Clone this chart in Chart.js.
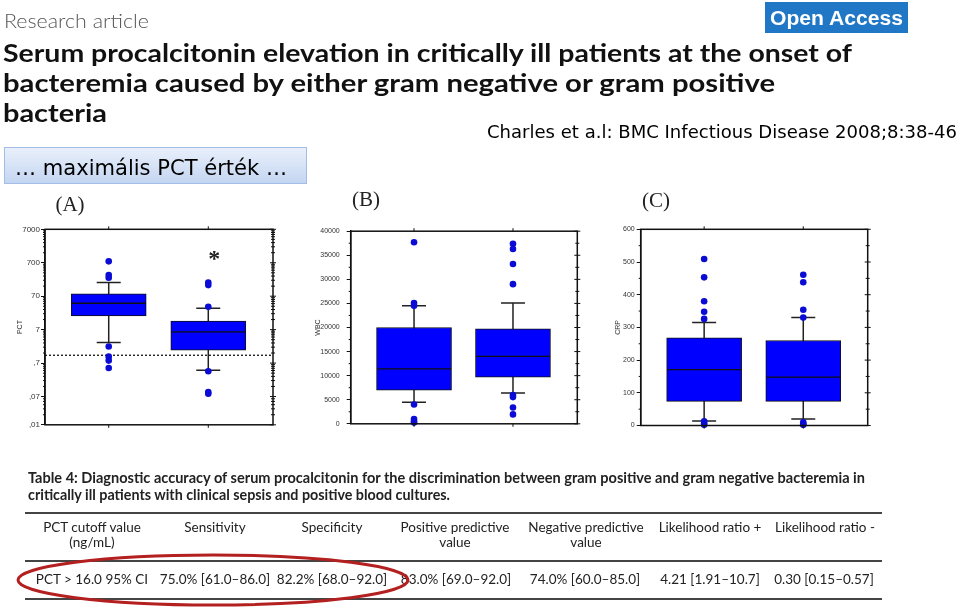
<!DOCTYPE html>
<html>
<head>
<meta charset="utf-8">
<script src="https://cdn.jsdelivr.net/npm/chart.js@4.4.0/dist/chart.umd.min.js"></script>
<style>
  body { margin: 0; background: #fff; }
  #page { position: relative; width: 960px; height: 610px; overflow: hidden; background: #fff; }
  #page canvas { position: absolute; }
  #page svg { position: absolute; left: 0; top: 0; }
</style>
</head>
<body>
<div id="page">
  <canvas id="cA"></canvas>
  <canvas id="cB"></canvas>
  <canvas id="cC"></canvas>
  <svg width="960" height="610" xml:space="preserve">
    <defs>
      <linearGradient id="boxGrad" x1="0" y1="0" x2="0" y2="1">
        <stop offset="0" stop-color="#eaf0fb"/>
        <stop offset="1" stop-color="#c3d5f1"/>
      </linearGradient>
    </defs>
    <!-- header -->
    <text x="4" y="28" font-family="Lato" font-weight="300" font-size="20" fill="#555" textLength="145" lengthAdjust="spacingAndGlyphs">Research article</text>
    <rect x="765" y="2" width="143" height="31" fill="#1f77c6"/>
    <text x="770" y="25" font-family="Liberation Sans" font-weight="bold" font-size="20" fill="#fff" textLength="133" lengthAdjust="spacingAndGlyphs">Open Access</text>
    <g font-family="Lato" font-weight="bold" font-size="25" fill="#111">
      <text x="3" y="62" textLength="849" lengthAdjust="spacingAndGlyphs">Serum procalcitonin elevation in critically ill patients at the onset of</text>
      <text x="3" y="92" textLength="772" lengthAdjust="spacingAndGlyphs">bacteremia caused by either gram negative or gram positive</text>
      <text x="3" y="122" textLength="104" lengthAdjust="spacingAndGlyphs">bacteria</text>
    </g>
    <text x="487" y="138" font-family="DejaVu Sans" font-size="17" fill="#000" textLength="470" lengthAdjust="spacingAndGlyphs">Charles et a.l: BMC Infectious Disease 2008;8:38-46</text>
    <rect x="4.5" y="147.5" width="302" height="36" fill="url(#boxGrad)" stroke="#a3bde6"/>
    <text x="15" y="175" font-family="DejaVu Sans" font-size="21" fill="#000" textLength="272" lengthAdjust="spacingAndGlyphs">…  maximális PCT érték  …</text>
    <!-- panel letters -->
    <g font-family="Liberation Serif" font-size="21" fill="#222" text-anchor="middle">
      <text x="70" y="211">(A)</text>
      <text x="366" y="206">(B)</text>
      <text x="656" y="207">(C)</text>
    </g>
    <!-- table -->
    <g font-family="Lato" font-weight="bold" font-size="14.5" fill="#222">
      <text x="28" y="483" textLength="837" lengthAdjust="spacingAndGlyphs">Table 4: Diagnostic accuracy of serum procalcitonin for the discrimination between gram positive and gram negative bacteremia in</text>
      <text x="28" y="500" textLength="422" lengthAdjust="spacingAndGlyphs">critically ill patients with clinical sepsis and positive blood cultures.</text>
    </g>
    <g stroke="#444" stroke-width="1.8">
      <line x1="25" y1="513" x2="882" y2="513"/>
      <line x1="25" y1="561" x2="882" y2="561"/>
      <line x1="25" y1="599" x2="882" y2="599"/>
    </g>
    <g font-family="Lato" font-size="13.5" fill="#222" text-anchor="middle">
      <text x="92" y="532">PCT cutoff value</text>
      <text x="92" y="547">(ng/mL)</text>
      <text x="215" y="532">Sensitivity</text>
      <text x="332" y="532">Specificity</text>
      <text x="455" y="532">Positive predictive</text>
      <text x="455" y="547">value</text>
      <text x="586" y="532">Negative predictive</text>
      <text x="586" y="547">value</text>
      <text x="710" y="532">Likelihood ratio +</text>
      <text x="825" y="532">Likelihood ratio -</text>
      <text x="92" y="584">PCT &gt; 16.0 95% CI</text>
      <text x="215" y="584">75.0% [61.0–86.0]</text>
      <text x="332" y="584">82.2% [68.0–92.0]</text>
      <text x="456" y="584">83.0% [69.0–92.0]</text>
      <text x="585" y="584">74.0% [60.0–85.0]</text>
      <text x="710" y="584">4.21 [1.91–10.7]</text>
      <text x="824" y="584">0.30 [0.15–0.57]</text>
    </g>
    <ellipse cx="213" cy="580" rx="195" ry="25" fill="none" stroke="#b3201f" stroke-width="3"/>
  </svg>
</div>
<script>
// ---------- DATA ----------
const groups = ['Gram negative', 'Gram positive'];
const groupX = [1, 2];

// (A) PCT, log scale
const pctQ1 = [18, 1.7];
const pctMedian = [43, 6.0];
const pctQ3 = [82, 12.7];
const pctWhiskerLo = [2.9, 0.43];
const pctWhiskerHi = [180, 30.6];
const pctOutliersNeg = [770, 299, 248, 2.2, 1.09, 0.83, 0.5];
const pctOutliersPos = [180, 150, 34, 0.4, 0.095, 0.085];
const pctCutoff = 1.2;
const pctStar = 1100;
const pctTicks = [0.01, 0.07, 0.7, 7, 70, 700, 7000];
const pctTickLabels = [',01', ',07', ',7', '7', '70', '700', '7000'];

// (B) WBC
const wbcQ1 = [7000, 9700];
const wbcMedian = [11400, 14000];
const wbcQ3 = [20000, 19700];
const wbcWhiskerLo = [4500, 6400];
const wbcWhiskerHi = [24500, 25100];
const wbcOutliersNeg = [37700, 25100, 24500, 4000, 1000, 500, 250];
const wbcOutliersPos = [37400, 36300, 33200, 29000, 5960, 5550, 3400, 1950];
const wbcTicks = [0, 5000, 10000, 15000, 20000, 25000, 30000, 35000, 40000];

// (C) CRP
const crpQ1 = [74, 74];
const crpMedian = [171, 148];
const crpQ3 = [268, 260];
const crpWhiskerLo = [14, 20];
const crpWhiskerHi = [315, 330];
const crpOutliersNeg = [509, 453, 380, 348, 326, 13, 6, 2];
const crpOutliersPos = [461, 438, 354, 330, 10, 4, 2];
const crpTicks = [0, 100, 200, 300, 400, 500, 600];

// ---------- BOX PLOT PLUGIN ----------
const boxplot = {
  id: 'boxplot',
  beforeDatasetsDraw(chart, args, o) {
    const { ctx, chartArea: a, scales: { x, y } } = chart;
    ctx.save();
    if (o.cutoff != null) {
      const py = y.getPixelForValue(o.cutoff);
      ctx.strokeStyle = '#111'; ctx.lineWidth = 1.3; ctx.setLineDash([2, 2]);
      ctx.beginPath(); ctx.moveTo(a.left, py); ctx.lineTo(a.right, py); ctx.stroke();
      ctx.setLineDash([]);
    }
    ctx.strokeStyle = '#222'; ctx.lineWidth = 1.5;
    o.lo.forEach((lo, i) => {
      const px = x.getPixelForValue(groupX[i]);
      const y0 = y.getPixelForValue(lo), y1 = y.getPixelForValue(o.hi[i]);
      ctx.beginPath();
      ctx.moveTo(px, y0); ctx.lineTo(px, y1);
      ctx.moveTo(px - 12, y0); ctx.lineTo(px + 12, y0);
      ctx.moveTo(px - 12, y1); ctx.lineTo(px + 12, y1);
      ctx.stroke();
    });
    ctx.restore();
  },
  afterDatasetDraw(chart, args, o) {
    if (args.index !== 0) return;
    const { ctx, scales: { x, y } } = chart;
    ctx.save();
    ctx.strokeStyle = '#111'; ctx.lineWidth = 1.3;
    o.med.forEach((m, i) => {
      const px = x.getPixelForValue(groupX[i]), py = y.getPixelForValue(m);
      ctx.beginPath(); ctx.moveTo(px - 37, py); ctx.lineTo(px + 37, py); ctx.stroke();
    });
    ctx.restore();
  },
  afterDraw(chart, args, o) {
    const { ctx, chartArea: a, scales: { x, y } } = chart;
    ctx.save();
    ctx.strokeStyle = '#111'; ctx.lineWidth = 1.5;
    ctx.strokeRect(a.left, a.top, a.right - a.left, a.bottom - a.top);
    ctx.lineWidth = 1;
    ctx.beginPath();
    groupX.forEach(g => {
      const px = x.getPixelForValue(g);
      ctx.moveTo(px, a.top); ctx.lineTo(px, a.top - 3);
      ctx.moveTo(px, a.bottom); ctx.lineTo(px, a.bottom + 3);
    });
    // minor ticks between the labelled ones, left and right
    const vals = y.ticks.map(t => t.value);
    const minor = [];
    for (let i = 0; i < vals.length - 1; i++) {
      if (y.type === 'logarithmic') {
        for (let k = 2; k < 10; k++) if (vals[i] * k < vals[i + 1]) minor.push(vals[i] * k);
      } else {
        minor.push((vals[i] + vals[i + 1]) / 2);
      }
    }
    vals.forEach(v => {
      const py = y.getPixelForValue(v);
      ctx.moveTo(a.right - 3, py); ctx.lineTo(a.right + 3, py);
    });
    minor.forEach(v => {
      const py = y.getPixelForValue(v);
      ctx.moveTo(a.left - 2, py); ctx.lineTo(a.left, py);
      ctx.moveTo(a.right - 2, py); ctx.lineTo(a.right + 2, py);
    });
    ctx.stroke();
    if (o.star != null) {
      ctx.fillStyle = '#222';
      ctx.font = 'bold 24px "Liberation Serif"';
      ctx.textAlign = 'center'; ctx.textBaseline = 'middle';
      ctx.fillText('*', x.getPixelForValue(groupX[1]) + 6, y.getPixelForValue(o.star) + 4);
    }
    ctx.restore();
  }
};

// ---------- PANELS ----------
function panel(id, L, yScale, st) {
  const cv = document.getElementById(id);
  cv.width = L.width; cv.height = L.height;
  Object.assign(cv.style, { left: L.left + 'px', top: L.top + 'px', width: L.width + 'px', height: L.height + 'px' });
  const [al, at, ar, ab] = L.area;
  const padLeft = L.titleX - 4.2 - L.left;
  const pts = (arr, gi) => arr.map(v => ({ x: groupX[gi], y: v }));
  return new Chart(cv, {
    type: 'bar',
    data: {
      datasets: [
        { data: groupX.map((g, i) => ({ x: g, y: [st.q1[i], st.q3[i]] })),
          backgroundColor: '#0000ff', borderColor: '#111', borderWidth: 1, borderSkipped: false,
          barThickness: 75, order: 2 },
        { type: 'scatter', data: pts(st.out[0], 0).concat(pts(st.out[1], 1)),
          backgroundColor: '#0b0bd6', borderWidth: 0, pointRadius: 3.3, pointHoverRadius: 3.3,
          clip: false, order: 1 }
      ]
    },
    options: {
      responsive: false, animation: false, events: [],
      layout: { padding: { left: padLeft, top: at - L.top, right: L.left + L.width - ar, bottom: 0 } },
      plugins: {
        legend: { display: false }, tooltip: { enabled: false },
        boxplot: { lo: st.lo, hi: st.hi, med: st.med, cutoff: st.cutoff, star: st.star }
      },
      scales: {
        x: { type: 'linear', min: 0.36, max: 2.65, offset: false,
             ticks: { display: false }, grid: { display: false, offset: false }, border: { display: false },
             afterFit: s => { s.height = L.top + L.height - ab; } },
        y: Object.assign({
             afterFit: s => { s.width = al - L.left - padLeft; },
             grid: { drawOnChartArea: false, drawTicks: true, tickLength: 4, color: '#111', lineWidth: 1 },
             border: { display: true, color: '#111', width: 1.5 },
             title: { display: true, text: L.yTitle, color: '#333', padding: 0,
                      font: { family: 'Liberation Sans', size: 7 } }
           }, yScale)
      }
    },
    plugins: [boxplot]
  });
}

const tickFont = size => ({ family: 'Liberation Sans', size });

panel('cA',
  { left: 0, top: 220, width: 290, height: 215, area: [45, 229.3, 273, 424.8], titleX: 20, yTitle: 'PCT' },
  { type: 'logarithmic', min: 0.01, max: 7000,
    afterBuildTicks: s => { s.ticks = pctTicks.map(v => ({ value: v })); },
    ticks: { autoSkip: false, padding: 1, color: '#333', font: tickFont(8), callback: (v, i) => pctTickLabels[i] } },
  { q1: pctQ1, q3: pctQ3, med: pctMedian, lo: pctWhiskerLo, hi: pctWhiskerHi,
    out: [pctOutliersNeg, pctOutliersPos], cutoff: pctCutoff, star: pctStar });

panel('cB',
  { left: 295, top: 220, width: 300, height: 215, area: [350.7, 227.7, 577.3, 424.3], titleX: 318, yTitle: 'WBC' },
  { type: 'linear', min: 0, max: 40000,
    afterBuildTicks: s => { s.ticks = wbcTicks.map(v => ({ value: v })); },
    ticks: { autoSkip: false, padding: 7, color: '#333', font: tickFont(7), callback: v => String(v) } },
  { q1: wbcQ1, q3: wbcQ3, med: wbcMedian, lo: wbcWhiskerLo, hi: wbcWhiskerHi,
    out: [wbcOutliersNeg, wbcOutliersPos] });

panel('cC',
  { left: 595, top: 220, width: 300, height: 215, area: [640.7, 229.3, 867.7, 425.5], titleX: 618, yTitle: 'CRP' },
  { type: 'linear', min: 0, max: 600,
    afterBuildTicks: s => { s.ticks = crpTicks.map(v => ({ value: v })); },
    ticks: { autoSkip: false, padding: 2, color: '#333', font: tickFont(7), callback: v => String(v) } },
  { q1: crpQ1, q3: crpQ3, med: crpMedian, lo: crpWhiskerLo, hi: crpWhiskerHi,
    out: [crpOutliersNeg, crpOutliersPos] });
</script>
</body>
</html>
